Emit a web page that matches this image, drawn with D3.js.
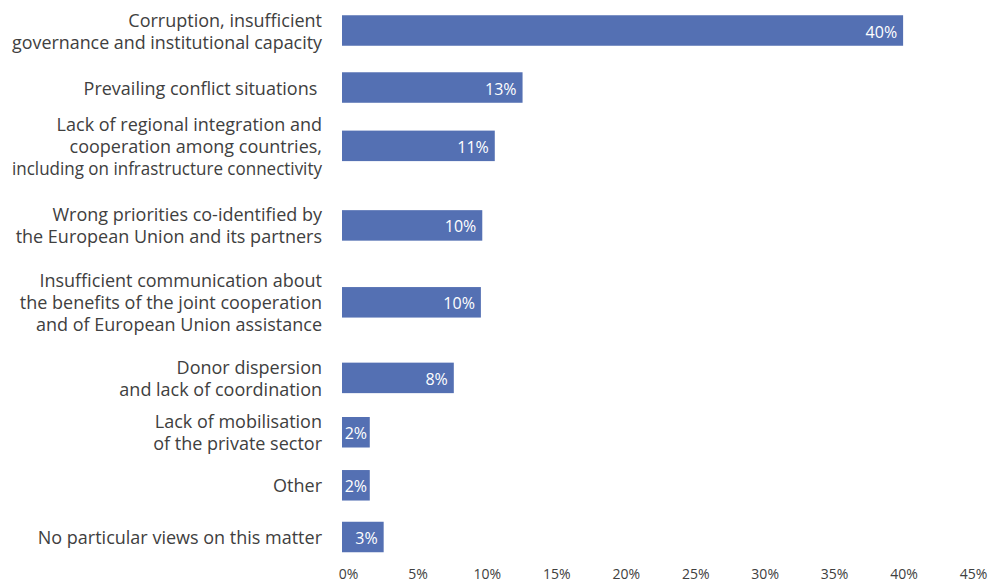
<!DOCTYPE html>
<html><head><meta charset="utf-8">
<script src="https://cdn.jsdelivr.net/npm/d3@7/dist/d3.min.js"></script>
<style>
body{margin:0;background:#fff}
text{font-family:"Open Sans",Lato,sans-serif}
</style>
</head><body>
<svg id="chart" width="990" height="585"></svg>
<script>
// ---- data ----
const categories = [
  ["Corruption, insufficient", "governance and institutional capacity"],
  ["Prevailing conflict situations "],
  ["Lack of regional integration and", "cooperation among countries,", "including on infrastructure connectivity"],
  ["Wrong priorities co-identified by", "the European Union and its partners"],
  ["Insufficient communication about", "the benefits of the joint cooperation", "and of European Union assistance"],
  ["Donor dispersion", "and lack of coordination"],
  ["Lack of mobilisation", "of the private sector"],
  ["Other"],
  ["No particular views on this matter"]
];
const values = [40.4, 13, 11, 10.1, 10, 8.05, 2, 2, 3];
const tickValues = [0, 5, 10, 15, 20, 25, 30, 35, 40, 45];

// ---- layout (relative spacing between rows) ----
const rowGaps = [2.15, 2.2, 3, 2.9, 2.85, 2.05, 2, 1.95];

const svg = d3.select("#chart");
const x = d3.scaleLinear().domain([0, 45]).range([342, 967]);
const rowPos = [0, ...d3.cumsum(rowGaps)];
const y = d3.scaleLinear().domain([0, d3.sum(rowGaps)]).range([30.5, 537]);
const barH = 30.5;
const textColor = "#404040";
const barColor = "#5470B3";
const font = "'Open Sans', Lato, sans-serif";
const labelRight = 322, maxLabelW = 310;

const rows = categories.map((c, i) => ({label: c, value: values[i], cy: y(rowPos[i])}));

// bars
svg.append("g").selectAll("rect").data(rows).join("rect")
  .attr("x", x(0))
  .attr("y", d => d.cy - barH / 2)
  .attr("width", d => x(d.value) - x(0))
  .attr("height", barH)
  .attr("fill", barColor);

// value labels
svg.append("g").selectAll("text").data(rows).join("text")
  .attr("fill", "#fff")
  .attr("font-size", 16)
  .attr("font-family", font)
  .attr("dominant-baseline", "central")
  .attr("y", d => d.cy + 1)
  .text(d => Math.round(d.value) + "%")
  .each(function(d) {
    const w = this.getComputedTextLength();
    const bw = x(d.value) - x(0);
    const t = d3.select(this);
    if (bw < w + 10) {
      t.attr("text-anchor", "middle").attr("x", x(0) + bw / 2);
    } else {
      t.attr("text-anchor", "end").attr("x", x(d.value) - 6);
    }
  });

// category labels
const lineH = 22;
const cat = svg.append("g").selectAll("g").data(rows).join("g");
cat.each(function(d) {
  const n = d.label.length;
  d3.select(this).selectAll("text").data(d.label).join("text")
    .attr("text-anchor", "end")
    .attr("font-size", 18)
    .attr("font-family", font)
    .attr("fill", textColor)
    .style("white-space", "pre")
    .attr("x", labelRight)
    .attr("y", (s, j) => d.cy + (j - (n - 1) / 2) * lineH)
    .attr("dominant-baseline", "central")
    .text(s => s)
    .each(function() {
      const w = this.getComputedTextLength();
      if (w > maxLabelW) {
        d3.select(this).attr("textLength", maxLabelW).attr("lengthAdjust", "spacingAndGlyphs");
      }
    });
});

// x axis (labels only)
const axis = d3.axisBottom(x).tickValues(tickValues).tickFormat(d => d + "%").tickSize(0).tickPadding(0);
const gx = svg.append("g").attr("transform", "translate(6,569)").call(axis);
gx.select(".domain").remove();
gx.selectAll("text").attr("font-size", 14).attr("fill", textColor)
  .attr("font-family", font);
</script>
</body></html>
